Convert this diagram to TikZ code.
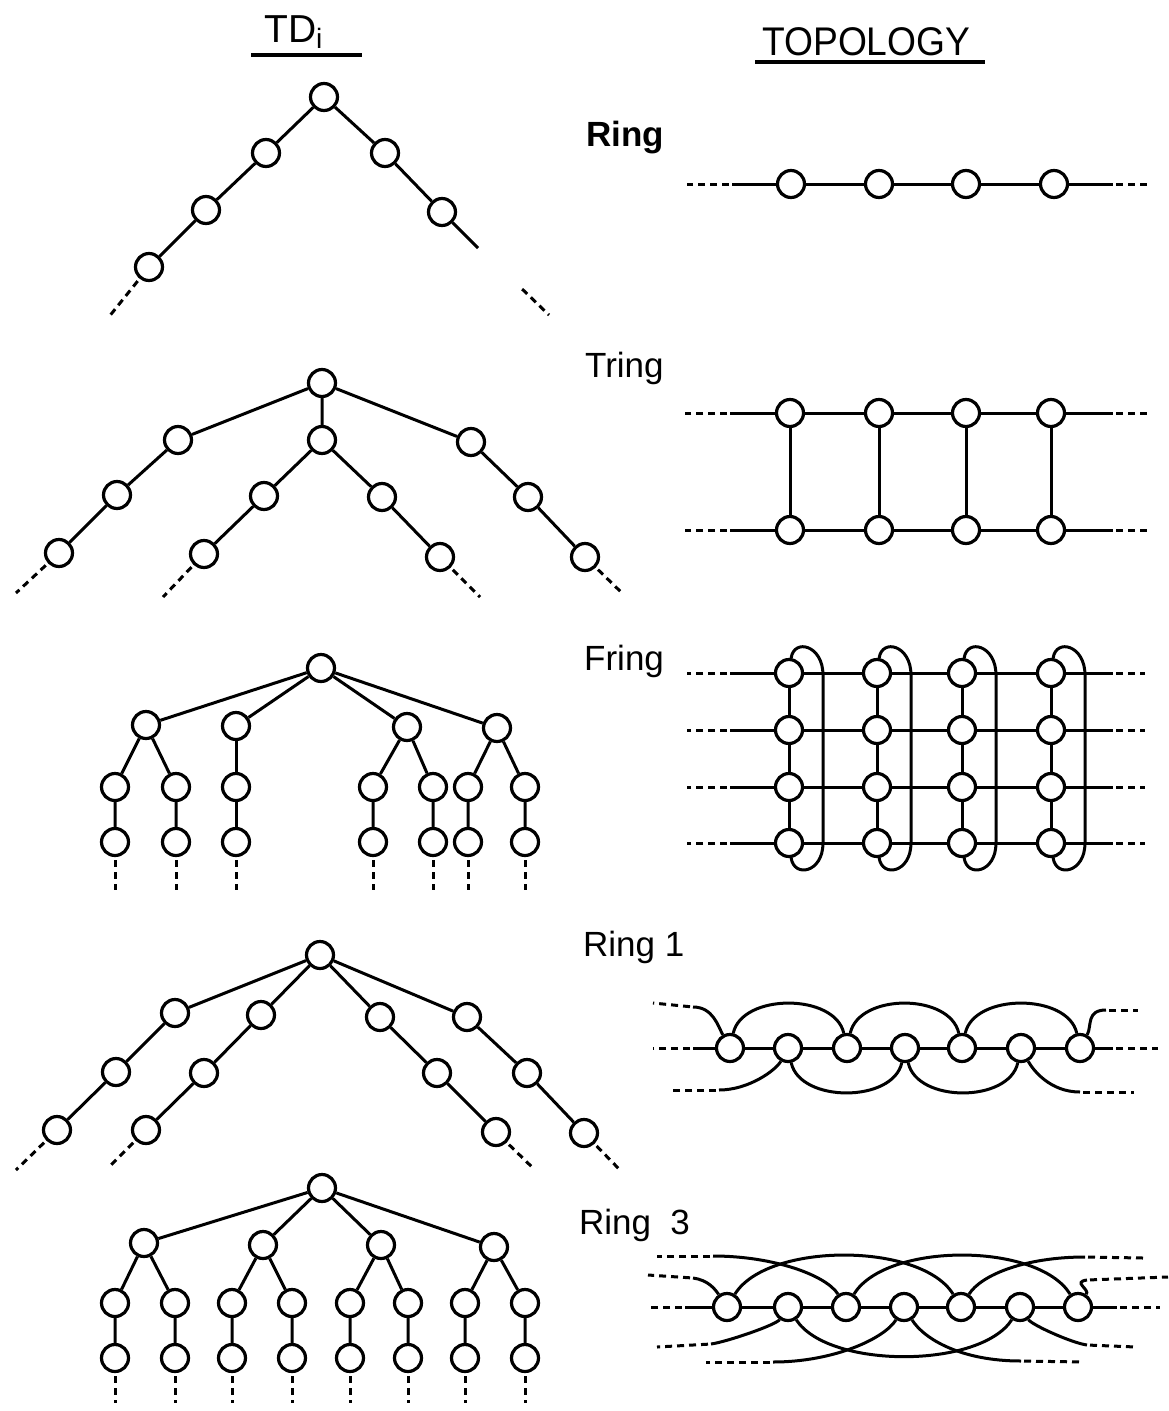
\documentclass[tikz,border=0pt]{standalone}
\usepackage{fontspec}
\setmainfont{Liberation Sans}

\begin{document}
\begin{tikzpicture}[x=1pt,y=-1pt,
    vertex/.style={circle,draw,line width=3.2pt,minimum size=27pt,inner sep=0pt},
    link/.style={line width=3pt},
    tail/.style={line width=3pt,dash pattern=on 7pt off 5pt,dash phase=9pt},
    tname/.style={anchor=base west,inner sep=0pt,font=\fontsize{35}{35}\selectfont},
    heading/.style={anchor=base west,inner sep=0pt,font=\fontsize{39}{39}\selectfont},
    headrule/.style={line width=3.8pt}]

    \path[use as bounding box,fill=white] (0,0) rectangle (1169,1411);

    % headings
    \node[heading] (tdi) at (264,42) {TD\raisebox{-6pt}{\fontsize{28}{28}\selectfont i}};
    \draw[headrule] (251,55) -- (362,55);
    \node[heading,font=\fontsize{40}{40}\selectfont] (topo) at (762,55) {\scalebox{0.93}[1]{TOPOLOGY}};
    \draw[headrule] (755,62) -- (985,62);

    \node[tname,font=\fontsize{35}{35}\selectfont\bfseries] (lring) at (586,146) {Ring};
    \node[tname] (ltring) at (585,377) {Tring};
    \node[tname] (lfring) at (584,670) {Fring};
    \node[tname] (lring1) at (583,956) {Ring 1};
    \node[tname] (lring3) at (579,1234) {Ring\hspace{0.55em}3};

    % Ring
    \node[vertex] (a0) at (324,97) {};
    \foreach \n/\x/\y in {a1/266/153,a2/206/210,a3/149/267,a4/385/153,a5/442/212}
        \node[vertex] (\n) at (\x,\y) {};
    \coordinate (a3t) at (108,318);
    \coordinate (a5e) at (478,248);
    \coordinate (a5t) at (520,287);
    \coordinate (a5u) at (549,315);
    \draw[link] (a3) -- (a2) -- (a1) -- (a0) -- (a4) -- (a5) -- (a5e);
    \draw[tail] (a3) -- (a3t);
    \draw[tail] (a5t) -- (a5u);

    \foreach \i/\x in {1/791,2/879,3/966,4/1054}
        \node[vertex] (r\i) at (\x,184) {};
    \coordinate (rl) at (732,184);
    \coordinate (rr) at (1113,184);
    \draw[link] (rl) -- (r1) -- (r2) -- (r3) -- (r4) -- (rr);
    \draw[tail] (rl) -- +(-45,0);
    \draw[tail] (rr) -- +(38,0);

    % Tring
    \foreach \n/\x/\y in {b0/322/383,b1/178/440,b2/322/440,b3/471/442,b4/117/495,b5/59/553,
        b6/264/496,b7/204/554,b8/382/497,b9/440/557,b10/528/497,b11/585/557}
        \node[vertex] (\n) at (\x,\y) {};
    \draw[link] (b0) -- (b1) -- (b4) -- (b5);
    \draw[link] (b0) -- (b2) -- (b6) -- (b7);
    \draw[link] (b2) -- (b8) -- (b9);
    \draw[link] (b0) -- (b3) -- (b10) -- (b11);
    \foreach \n/\x/\y in {b5/16/593,b7/163/597,b9/480/597,b11/622/593}
        \draw[tail] (\n) -- (\x,\y);

    \foreach \i/\x in {1/790,2/879,3/966,4/1051} {
        \node[vertex] (t\i) at (\x,413) {};
        \node[vertex] (u\i) at (\x,530) {};
        \draw[link] (t\i) -- (u\i);
    }
    \coordinate (tl) at (730,413);
    \coordinate (tr) at (1113,413);
    \coordinate (ul) at (730,530);
    \coordinate (ur) at (1113,530);
    \draw[link] (tl) -- (t1) -- (t2) -- (t3) -- (t4) -- (tr);
    \draw[link] (ul) -- (u1) -- (u2) -- (u3) -- (u4) -- (ur);
    \draw[tail] (tl) -- +(-45,0);
    \draw[tail] (tr) -- +(36,0);
    \draw[tail] (ul) -- +(-45,0);
    \draw[tail] (ur) -- +(36,0);

    % Fring
    \node[vertex] (c0) at (321,668) {};
    \foreach \n/\x/\y in {c1/146/725,c2/236/726,c3/407/727,c4/497/728} {
        \node[vertex] (\n) at (\x,\y) {};
        \draw[link] (c0) -- (\n);
    }
    \foreach \i/\x/\p in {1/115/c1,2/176/c1,3/236/c2,4/373/c3,5/433/c3,6/468/c4,7/525/c4} {
        \node[vertex] (d\i) at (\x,787) {};
        \node[vertex] (e\i) at (\x,842) {};
        \draw[link] (\p) -- (d\i) -- (e\i);
        \draw[tail] (e\i) -- (\x,890);
    }

    \foreach \r/\y in {1/673,2/730,3/787,4/843} {
        \foreach \c/\x in {1/789,2/877,3/962,4/1051}
            \node[vertex] (f\r\c) at (\x,\y) {};
        \coordinate (fl\r) at (730,\y);
        \coordinate (fr\r) at (1113,\y);
        \draw[link] (fl\r) -- (f\r1) -- (f\r2) -- (f\r3) -- (f\r4) -- (fr\r);
        \draw[tail] (fl\r) -- +(-43,0);
        \draw[tail] (fr\r) -- +(32,0);
    }
    \foreach \c/\x in {1/789,2/877,3/962,4/1051} {
        \draw[link] (f1\c) -- (f2\c) -- (f3\c) -- (f4\c);
        \draw[link] (f1\c) .. controls +(5,-35) and +(0,-30) .. (\x+34,675)
            -- (\x+34,843) .. controls +(0,30) and +(5,35) .. (f4\c);
    }

    % Ring 1
    \node[vertex] (g0) at (320,955) {};
    \foreach \n/\x/\y in {g1/175/1013,g2/261/1015,g3/380/1017,g4/467/1017,g5/116/1072,g6/57/1130,
        g7/204/1073,g8/146/1130,g9/437/1073,g10/496/1132,g11/527/1073,g12/584/1133}
        \node[vertex] (\n) at (\x,\y) {};
    \draw[link] (g0) -- (g1) -- (g5) -- (g6);
    \draw[link] (g0) -- (g2) -- (g7) -- (g8);
    \draw[link] (g0) -- (g3) -- (g9) -- (g10);
    \draw[link] (g0) -- (g4) -- (g11) -- (g12);
    \foreach \n/\x/\y in {g6/16/1170,g8/108/1168,g10/533/1168,g12/620/1170}
        \draw[tail] (\n) -- (\x,\y);

    \foreach \i/\x in {1/730,2/788,3/847,4/905,5/962,6/1021,7/1080}
        \node[vertex] (h\i) at (\x,1048) {};
    \coordinate (hl) at (693,1048);
    \coordinate (hr) at (1113,1048);
    \draw[link] (hl) -- (h1) -- (h2) -- (h3) -- (h4) -- (h5) -- (h6) -- (h7) -- (hr);
    \draw[tail] (hl) -- +(-40,0);
    \draw[tail] (hr) -- +(45,0);
    \foreach \a/\b in {1/3,3/5,5/7}
        \draw[link] (h\a) .. controls +(12,-55) and +(-12,-55) .. (h\b);
    \foreach \a/\b in {2/4,4/6}
        \draw[link] (h\a) .. controls +(12,55) and +(-12,55) .. (h\b);
    \coordinate (hul) at (693,1007);
    \coordinate (hur) at (1106,1010);
    \coordinate (hdl) at (719,1090);
    \coordinate (hdr) at (1080,1092);
    \draw[link] (hul) .. controls +(20,0) and +(-12,-22) .. (h1);
    \draw[link] (h7) .. controls +(12,-22) and +(-20,0) .. (hur);
    \draw[link] (hdl) .. controls +(30,0) and +(-12,22) .. (h2);
    \draw[link] (h6) .. controls +(12,22) and +(-30,0) .. (hdr);
    \draw[tail] (hul) -- +(-40,-4);
    \draw[tail] (hur) -- +(32,0);
    \draw[tail] (hdl) -- +(-47,0);
    \draw[tail] (hdr) -- +(54,0);

    % Ring 3
    \node[vertex] (k0) at (322,1188) {};
    \foreach \n/\x/\y in {k1/144/1243,k2/263/1245,k3/381/1245,k4/494/1247} {
        \node[vertex] (\n) at (\x,\y) {};
        \draw[link] (k0) -- (\n);
    }
    \foreach \i/\x/\p in {1/115/k1,2/175/k1,3/232/k2,4/292/k2,5/350/k3,6/408/k3,7/465/k4,8/525/k4} {
        \node[vertex] (l\i) at (\x,1303) {};
        \node[vertex] (q\i) at (\x,1358) {};
        \draw[link] (\p) -- (l\i) -- (q\i);
        \draw[tail] (q\i) -- (\x,1403);
    }

    \foreach \i/\x in {1/727,2/788,3/846,4/904,5/961,6/1020,7/1078}
        \node[vertex] (m\i) at (\x,1307) {};
    \coordinate (ml) at (685,1307);
    \coordinate (mr) at (1117,1307);
    \draw[link] (ml) -- (m1) -- (m2) -- (m3) -- (m4) -- (m5) -- (m6) -- (m7) -- (mr);
    \draw[tail] (ml) -- +(-37,0);
    \draw[tail] (mr) -- +(43,0);
    \foreach \a/\b in {1/5,3/7}
        \draw[link] (m\a) .. controls +(40,-65) and +(-40,-65) .. (m\b);
    \draw[link] (m2) .. controls +(40,62) and +(-40,62) .. (m6);
    \coordinate (mA) at (713,1256);
    \coordinate (mB) at (693,1278);
    \coordinate (mE) at (1085,1257);
    \coordinate (mF) at (1087,1280);
    \coordinate (mG) at (711,1344);
    \coordinate (mH) at (773,1362);
    \coordinate (mJ) at (1021,1361);
    \coordinate (mK) at (1087,1345);
    \draw[link] (mA) .. controls +(60,0) and +(-20,-32) .. (m3);
    \draw[link] (mB) .. controls +(15,2) and +(-12,-18) .. (m1);
    \draw[link] (m5) .. controls +(20,-32) and +(-60,0) .. (mE);
    \draw[link] (m7) .. controls +(12,-18) and +(-15,2) .. (mF);
    \draw[link] (mG) .. controls +(15,-2) and +(-12,18) .. (m2);
    \draw[link] (mH) .. controls +(60,0) and +(-20,32) .. (m4);
    \draw[link] (m4) .. controls +(20,32) and +(-60,0) .. (mJ);
    \draw[link] (m6) .. controls +(12,18) and +(-15,-2) .. (mK);
    \draw[tail] (mA) -- +(-56,0);
    \draw[tail] (mB) -- +(-45,-3);
    \draw[tail] (mE) -- +(58,1);
    \draw[tail] (mF) -- +(81,-3);
    \draw[tail] (mG) -- +(-54,3);
    \draw[tail] (mH) -- +(-67,0);
    \draw[tail] (mJ) -- +(62,1);
    \draw[tail] (mK) -- +(49,2);

\end{tikzpicture}
\end{document}
